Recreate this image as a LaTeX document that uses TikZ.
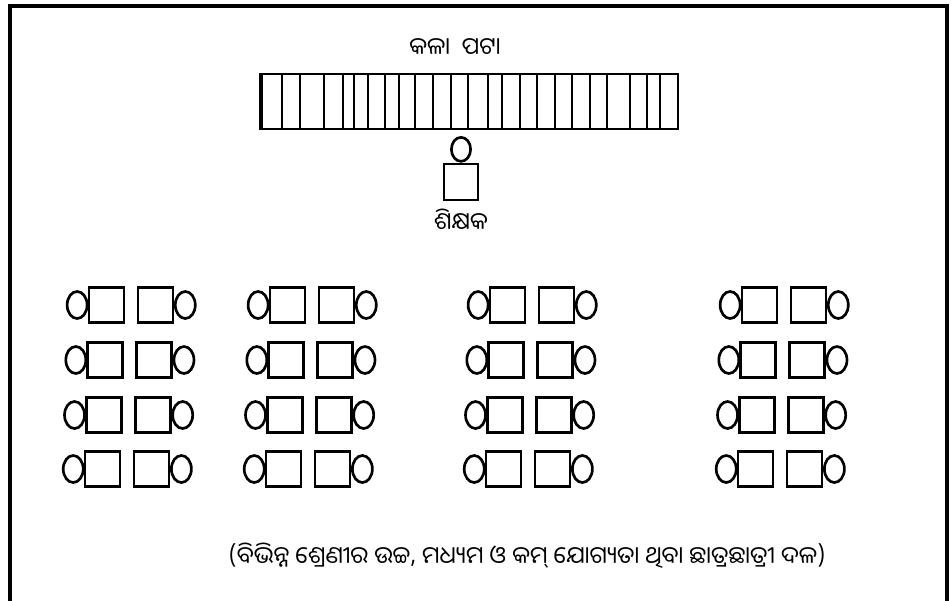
\documentclass[tikz,border=0pt]{standalone}
\usepackage{fontspec}
\newfontfamily\odiafont[Script=Oriya]{Noto Sans Oriya UI}
\usetikzlibrary{shapes.geometric}

\begin{document}
\begin{tikzpicture}[
  x=0.025cm, y=-0.025cm,
  line width=1.9pt,
  label/.style={font=\odiafont\fontsize{16.8}{19}\selectfont, inner sep=0pt},
  desk/.style={draw=black, minimum width=0.875cm, minimum height=0.875cm,
    inner sep=0pt},
  seat/.style={draw=black, ellipse, minimum width=0.5cm, minimum height=0.675cm,
    inner sep=0pt},
  teacher/.style={draw=black, minimum width=0.85cm, minimum height=0.9cm,
    inner sep=0pt}
]
\useasboundingbox (0,0) rectangle (951,600);
\draw[line width=2.4pt] (10,6) rectangle (947,640);

% blackboard
\node[label] (boardtitle) at (455,48) {କଳା\enspace ପଟା};
\draw (260,74) rectangle (678,129);
\draw[line width=3pt] (261,74) -- (261,129);
\foreach \bx in {282,300,324,343,354,368,385,399,415,433,451,468,488,502,
                 520,537,555,572,590,607,630,647,660}
  \draw (\bx,74) -- (\bx,129);

% teacher
\node[teacher] (body) at (461,182) {};
\node[seat, minimum width=0.48cm, minimum height=0.6cm, anchor=south]
  (head) at (body.north) {};
\node[label] (teachername) at (461,220) {ଶିକ୍ଷକ};

% four groups of paired desks
\foreach \g/\gx in {1/131,2/312,3/532,4/784}{
  \foreach \r/\ry in {1/305,2/360,3/415,4/469}{
    \pgfmathsetmacro{\cx}{\gx-1.3*(\r-1)}
    \node[desk] (dl\g\r) at (\cx-24.5,\ry) {};
    \node[desk] (dr\g\r) at (\cx+24.5,\ry) {};
    \node[seat, anchor=east, xshift=0.02cm] (sl\g\r) at (dl\g\r.west) {};
    \node[seat, anchor=west, xshift=-0.01cm] (sr\g\r) at (dr\g\r.east) {};
  }
}

\node[label] (caption) at (527,556)
  {(ବିଭିନ୍ନ ଶ୍ରେଣୀର ଉଚ୍ଚ, ମଧ୍ୟମ ଓ କମ୍ ଯୋଗ୍ୟତା ଥିବା ଛାତ୍ରଛାତ୍ରୀ ଦଳ)};
\end{tikzpicture}
\end{document}
